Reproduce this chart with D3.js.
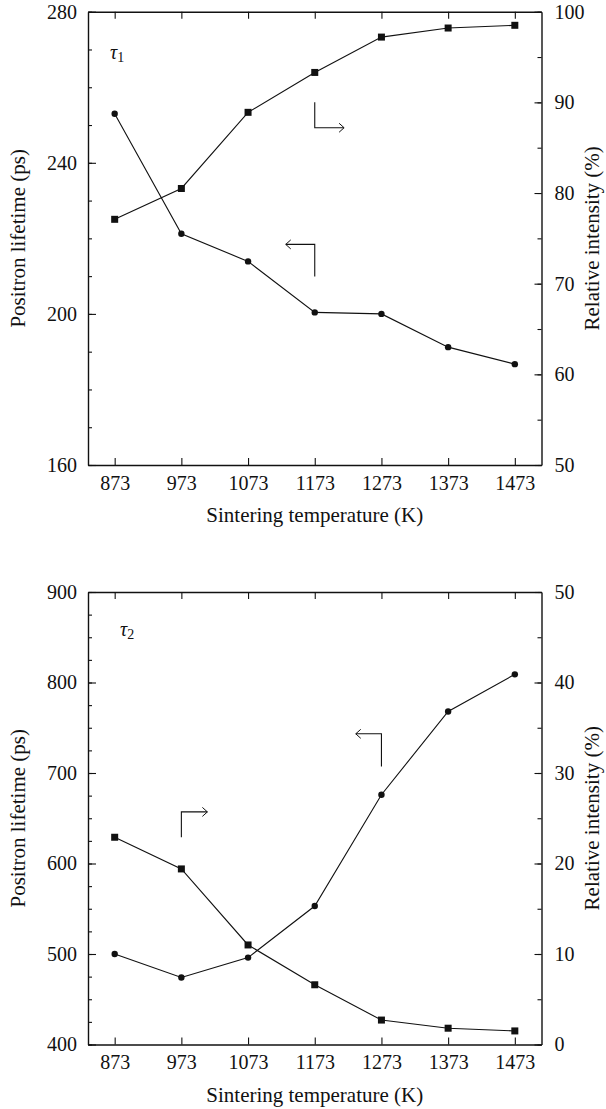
<!DOCTYPE html>
<html>
<head>
<meta charset="utf-8">
<script src="https://cdn.jsdelivr.net/npm/d3@7"></script>
<style>
  body { margin: 0; background: #fff; }
</style>
</head>
<body>
<div id="chart"></div>
<script>
// values
const temps = [873, 973, 1073, 1173, 1273, 1373, 1473];
const tau1Lifetime = [253.0, 221.2, 213.9, 200.4, 200.0, 191.2, 186.7];
const tau1Intensity = [77.1, 80.5, 88.9, 93.3, 97.2, 98.2, 98.5];
const tau2Lifetime = [500, 474, 496, 553, 676, 768, 809];
const tau2Intensity = [22.9, 19.4, 11.0, 6.6, 2.7, 1.8, 1.5];
const xTickLabels = ['873', '973', '1073', '1173', '1273', '1373', '1473'];

const fontSize = 20;
const titleSize = 21;
const serif = '"Liberation Serif", "Times New Roman", "DejaVu Serif", serif';

const svg = d3.select('#chart')
  .append('svg')
  .attr('width', 606)
  .attr('height', 1109)
  .attr('font-family', serif);

function drawPanel(p) {
  const left = 88, right = 541.5;
  const x = d3.scaleLinear().domain([833, 1513]).range([left, right]);
  const yL = d3.scaleLinear().domain(p.leftDomain).range([p.bottom, p.top]);
  const yR = d3.scaleLinear().domain(p.rightDomain).range([p.bottom, p.top]);

  const g = svg.append('g');

  // minor ticks first
  g.append('g')
    .attr('transform', 'translate(' + left + ',0)')
    .call(d3.axisLeft(yL).tickValues(d3.range(p.leftDomain[0], p.leftDomain[1] + 0.01, p.leftMinor))
      .tickSize(-4).tickSizeOuter(0).tickFormat(''))
    .call(s => s.select('.domain').remove());
  g.append('g')
    .attr('transform', 'translate(' + right + ',0)')
    .call(d3.axisRight(yR).tickValues(d3.range(p.rightDomain[0], p.rightDomain[1] + 0.01, p.rightMinor))
      .tickSize(-4).tickSizeOuter(0).tickFormat(''))
    .call(s => s.select('.domain').remove());

  // major axes
  const ax = g.append('g')
    .attr('transform', 'translate(0,' + p.bottom + ')')
    .call(d3.axisBottom(x).tickValues(temps).tickFormat((d, i) => xTickLabels[i])
      .tickSize(-7).tickSizeOuter(0).tickPadding(10.5));
  ax.selectAll('text').attr('dy', '0.71em');

  g.append('g')
    .attr('transform', 'translate(0,' + p.top + ')')
    .call(d3.axisTop(x).tickValues(temps).tickFormat('')
      .tickSize(-7).tickSizeOuter(0));

  g.append('g')
    .attr('transform', 'translate(' + left + ',0)')
    .call(d3.axisLeft(yL).tickValues(d3.range(p.leftDomain[0], p.leftDomain[1] + 0.01, p.leftMajor))
      .tickSize(-8).tickSizeOuter(0).tickPadding(11));

  g.append('g')
    .attr('transform', 'translate(' + right + ',0)')
    .call(d3.axisRight(yR).tickValues(d3.range(p.rightDomain[0], p.rightDomain[1] + 0.01, p.rightMajor))
      .tickSize(-7).tickSizeOuter(0).tickPadding(13));

  // d3 puts sans-serif on each axis group; drop it so the serif applies
  g.selectAll('g').attr('font-family', null).attr('font-size', null);
  g.selectAll('.tick text').attr('font-size', fontSize).attr('fill', '#111');
  g.selectAll('.domain').attr('stroke', '#111').attr('stroke-width', 1.4);
  g.selectAll('.tick line').attr('stroke', '#111').attr('stroke-width', 1.1);

  // axis titles
  g.append('text')
    .attr('x', (left + right) / 2)
    .attr('y', p.bottom + 57)
    .attr('text-anchor', 'middle')
    .attr('font-size', titleSize)
    .attr('fill', '#111')
    .text('Sintering temperature (K)');

  g.append('text')
    .attr('transform', 'translate(25,' + (p.top + p.bottom) / 2 + ') rotate(-90)')
    .attr('text-anchor', 'middle')
    .attr('font-size', titleSize)
    .attr('fill', '#111')
    .text('Positron lifetime (ps)');

  g.append('text')
    .attr('transform', 'translate(599,' + (p.top + p.bottom) / 2 + ') rotate(-90)')
    .attr('text-anchor', 'middle')
    .attr('font-size', titleSize)
    .attr('fill', '#111')
    .text('Relative intensity (%)');

  // tau label
  const t = g.append('text')
    .attr('x', p.labelX)
    .attr('y', p.labelY)
    .attr('font-size', fontSize)
    .attr('fill', '#111');
  t.append('tspan').attr('font-style', 'italic').text('\u03c4');
  t.append('tspan').attr('font-size', 14).attr('dy', 3).text(p.sub);

  // lines
  const lineL = d3.line().x((d, i) => x(temps[i])).y(d => yL(d));
  const lineR = d3.line().x((d, i) => x(temps[i])).y(d => yR(d));

  g.append('path').datum(p.lifetime)
    .attr('fill', 'none').attr('stroke', '#111').attr('stroke-width', 1.1)
    .attr('d', lineL);
  g.append('path').datum(p.intensity)
    .attr('fill', 'none').attr('stroke', '#111').attr('stroke-width', 1.1)
    .attr('d', lineR);

  g.selectAll('.dot')
    .data(p.lifetime)
    .enter().append('circle')
    .attr('cx', (d, i) => x(temps[i]))
    .attr('cy', d => yL(d))
    .attr('r', 3.2)
    .attr('fill', '#111');

  g.selectAll('.sq')
    .data(p.intensity)
    .enter().append('rect')
    .attr('x', (d, i) => x(temps[i]) - 3.5)
    .attr('y', d => yR(d) - 3.5)
    .attr('width', 7)
    .attr('height', 7)
    .attr('fill', '#111');

  // arrows showing which axis each curve belongs to
  p.arrows.forEach(a => {
    const y = a.axis === 'left' ? yL : yR;
    const x0 = x(a.x), y0 = y(a.y0), y1 = y(a.y1), x1 = x(a.x1);
    const dir = x1 > x0 ? 1 : -1;
    g.append('path')
      .attr('d', 'M' + x0 + ',' + y0 + 'V' + y1 + 'H' + x1)
      .attr('fill', 'none').attr('stroke', '#111').attr('stroke-width', 1.1);
    g.append('path')
      .attr('d', 'M' + (x1 - dir * 5) + ',' + (y1 - 4.5) + 'L' + x1 + ',' + y1 + 'L' + (x1 - dir * 5) + ',' + (y1 + 4.5))
      .attr('fill', 'none').attr('stroke', '#111').attr('stroke-width', 1);
  });
}

drawPanel({
  top: 11.7, bottom: 465,
  leftDomain: [160, 280], leftMajor: 40, leftMinor: 10,
  rightDomain: [50, 100], rightMajor: 10, rightMinor: 5,
  lifetime: tau1Lifetime, intensity: tau1Intensity,
  sub: '1', labelX: 110, labelY: 59,
  arrows: [
    { axis: 'right', x: 1173, y0: 90.0, y1: 87.2, x1: 1217 },
    { axis: 'left', x: 1173, y0: 209.9, y1: 218.4, x1: 1129.5 }
  ]
});

drawPanel({
  top: 592, bottom: 1044.5,
  leftDomain: [400, 900], leftMajor: 100, leftMinor: 25,
  rightDomain: [0, 50], rightMajor: 10, rightMinor: 5,
  lifetime: tau2Lifetime, intensity: tau2Intensity,
  sub: '2', labelX: 120, labelY: 636,
  arrows: [
    { axis: 'right', x: 973, y0: 22.9, y1: 25.7, x1: 1012 },
    { axis: 'left', x: 1273, y0: 707.2, y1: 743.3, x1: 1234.5 }
  ]
});
</script>
</body>
</html>
